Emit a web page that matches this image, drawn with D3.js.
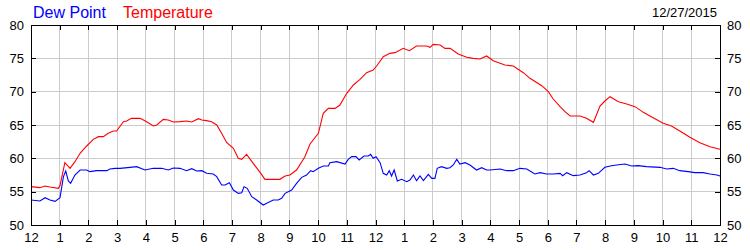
<!DOCTYPE html>
<html>
<head>
<meta charset="utf-8">
<script src="https://cdn.jsdelivr.net/npm/d3@7"></script>
<style>
  html, body { margin: 0; padding: 0; background: #fff; }
  svg { display: block; font-family: "Liberation Sans", Arial, sans-serif; }
</style>
</head>
<body>
<svg id="chart" width="750" height="250"></svg>
<script>
// ---- data ----
const seriesNames = ["Dew Point", "Temperature"];
const seriesColors = ["#0000ff", "#ff0000"];
const dateLabel = "12/27/2015";
const hourLabels = ["12","1","2","3","4","5","6","7","8","9","10","11","12","1","2","3","4","5","6","7","8","9","10","11","12"];
const yTicks = [50, 55, 60, 65, 70, 75, 80];

const tempHours = [0,0.31,0.49,0.66,0.95,1.01,1.18,1.36,1.53,1.71,1.94,2.17,2.35,2.52,2.69,2.87,2.98,3.22,3.33,3.5,3.8,4.03,4.26,4.38,4.61,4.78,4.96,5.19,5.42,5.6,5.83,5.95,6.12,6.29,6.47,6.64,6.82,7.05,7.22,7.34,7.51,7.74,7.98,8.15,8.32,8.67,8.85,9.02,9.25,9.54,9.72,10.01,10.18,10.36,10.59,10.76,11.0,11.23,11.46,11.69,11.92,12.04,12.27,12.5,12.68,12.97,13.18,13.43,13.78,13.9,14.01,14.25,14.42,14.6,14.88,15.18,15.4,15.64,15.87,16.1,16.51,16.8,17.15,17.38,17.79,18.02,18.19,18.43,18.6,18.78,19.12,19.35,19.59,19.82,19.99,20.17,20.46,20.75,21.04,21.33,21.56,22.02,22.31,22.6,22.95,23.3,23.65,24];
const tempValues = [55.75,55.6,55.85,55.7,55.5,55.9,59.35,58.5,59.5,60.75,61.85,62.85,63.25,63.25,63.75,64.1,64.1,65.5,65.6,66.0,66.0,65.5,64.85,65.0,65.85,65.75,65.45,65.5,65.6,65.45,65.95,65.75,65.65,65.5,65.0,63.75,62.35,61.5,60.0,59.85,60.6,59.25,57.9,56.85,56.85,56.85,57.35,57.5,58.25,60.25,62.15,63.75,66.75,67.5,67.5,68.0,69.75,71.0,71.85,72.85,73.25,73.85,75.25,75.75,75.85,76.5,76.15,76.85,76.85,76.65,77.1,77.0,76.5,76.5,75.65,75.15,75.0,74.9,75.35,74.65,74.0,73.85,72.85,72.0,70.9,70.0,68.9,67.75,67.0,66.35,66.35,66.0,65.4,67.85,68.6,69.25,68.5,68.15,67.75,66.9,66.35,65.25,64.85,64.1,63.15,62.35,61.75,61.35];

const dewHours = [0,0.31,0.49,0.66,0.84,1.01,1.13,1.21,1.3,1.38,1.53,1.71,1.94,2.05,2.29,2.64,2.75,2.93,3.1,3.45,3.68,3.97,4.26,4.55,4.78,4.96,5.19,5.42,5.6,5.77,5.95,6.12,6.35,6.47,6.64,6.76,6.91,7.05,7.22,7.34,7.42,7.53,7.69,7.86,8.09,8.21,8.44,8.61,8.73,8.85,9.08,9.25,9.43,9.6,9.74,9.83,10.01,10.18,10.36,10.41,10.65,10.94,11.05,11.17,11.32,11.43,11.6,11.75,11.83,11.92,12.02,12.16,12.27,12.39,12.48,12.56,12.65,12.76,12.91,13.09,13.2,13.32,13.43,13.55,13.67,13.84,13.96,14.07,14.15,14.3,14.48,14.59,14.71,14.83,14.94,15.12,15.29,15.52,15.7,15.87,15.99,16.34,16.57,16.8,17.03,17.27,17.55,17.73,17.96,18.19,18.43,18.52,18.66,18.89,19.12,19.35,19.44,19.59,19.76,19.99,20.22,20.4,20.69,20.92,21.15,21.44,21.91,22.14,22.37,22.6,22.89,23.12,23.41,23.65,23.89,24];
const dewValues = [53.75,53.6,54.1,53.75,53.55,54.1,57.25,58.1,56.6,56.25,57.5,58.25,58.25,58.0,58.15,58.15,58.4,58.5,58.5,58.65,58.75,58.25,58.5,58.5,58.25,58.55,58.5,58.15,58.45,58.1,58.15,57.75,57.65,57.25,56.0,56.0,56.35,55.25,54.75,54.85,55.75,55.5,54.25,53.75,53.0,53.25,53.75,53.75,54.0,54.75,55.25,56.25,57.15,57.5,58.15,58.0,58.5,58.85,58.85,59.35,59.5,59.15,59.85,60.25,60.25,59.75,60.35,60.35,60.6,60.0,60.25,59.35,57.75,57.5,58.15,57.35,58.25,56.6,56.85,56.5,56.75,57.5,56.65,57.35,56.65,57.6,57.0,57.0,58.5,58.75,58.5,58.6,59.0,59.85,59.15,59.35,59.0,58.25,58.6,58.25,58.25,58.4,58.15,58.15,58.5,58.4,57.65,57.85,57.65,57.65,57.75,57.4,57.85,57.4,57.5,57.85,58.15,57.5,57.75,58.65,58.9,59.0,59.15,58.85,58.9,58.75,58.65,58.4,58.5,58.15,58.0,57.85,57.85,57.65,57.5,57.35];

// ---- layout ----
const svg = d3.select("#chart");
const plotLeft = 31, plotRight = 720, plotTop = 25, plotBottom = 225;
const x = d3.scaleLinear().domain([0, 24]).range([plotLeft, plotRight]);
const y = d3.scaleLinear().domain([50, 80]).range([plotBottom, plotTop]);
const hourTicks = d3.range(0, 25);
const fontSize = 13;

// gridlines
const grid = svg.append("g").attr("shape-rendering", "crispEdges").attr("stroke", "#cccccc").attr("stroke-width", 1);
grid.selectAll("line.v").data(hourTicks.slice(1, -1)).join("line").attr("class", "v")
  .attr("x1", d => x(d)).attr("x2", d => x(d)).attr("y1", plotTop).attr("y2", plotBottom);
grid.selectAll("line.h").data(yTicks.slice(1, -1)).join("line").attr("class", "h")
  .attr("y1", d => y(d)).attr("y2", d => y(d)).attr("x1", plotLeft).attr("x2", plotRight);

// lines
const line = d3.line().x(d => x(d[0])).y(d => y(d[1]));
const dewData = dewHours.map((h, i) => [h, dewValues[i]]);
const tempData = tempHours.map((h, i) => [h, tempValues[i]]);
svg.append("path").datum(tempData).attr("d", line).attr("fill", "none").attr("stroke", seriesColors[1]).attr("stroke-width", 1.1);
svg.append("path").datum(dewData).attr("d", line).attr("fill", "none").attr("stroke", seriesColors[0]).attr("stroke-width", 1.1);

// axes
function styleAxis(g) {
  g.attr("shape-rendering", "crispEdges");
  g.selectAll("path.domain").attr("stroke", "#000");
  g.selectAll(".tick line").attr("stroke", "#000");
  g.selectAll(".tick text").attr("fill", "#000").attr("font-size", fontSize).attr("font-family", "'Liberation Sans', Arial, sans-serif");
}
svg.append("g").attr("transform", `translate(0,${plotBottom})`)
  .call(d3.axisBottom(x).tickValues(hourTicks).tickFormat((d, i) => hourLabels[i]).tickSizeInner(-5).tickSizeOuter(0).tickPadding(8))
  .call(styleAxis);
svg.append("g").attr("transform", `translate(0,${plotTop})`)
  .call(d3.axisTop(x).tickValues(hourTicks).tickFormat("").tickSizeInner(-5).tickSizeOuter(0))
  .call(styleAxis);
svg.append("g").attr("transform", `translate(${plotLeft},0)`)
  .call(d3.axisLeft(y).tickValues(yTicks).tickFormat(d3.format("d")).tickSizeInner(-5).tickSizeOuter(0).tickPadding(7))
  .call(styleAxis);
svg.append("g").attr("transform", `translate(${plotRight},0)`)
  .call(d3.axisRight(y).tickValues(yTicks).tickFormat(d3.format("d")).tickSizeInner(-5).tickSizeOuter(0).tickPadding(7))
  .call(styleAxis);

// legend
svg.append("text").attr("x", 33).attr("y", 18).attr("font-size", 16).attr("fill", seriesColors[0]).text(seriesNames[0]);
svg.append("text").attr("x", 123).attr("y", 18).attr("font-size", 16).attr("fill", seriesColors[1]).text(seriesNames[1]);

// date
svg.append("text").attr("x", 717).attr("y", 17).attr("text-anchor", "end").attr("font-size", 13).attr("fill", "#000").text(dateLabel);
</script>
</body>
</html>
